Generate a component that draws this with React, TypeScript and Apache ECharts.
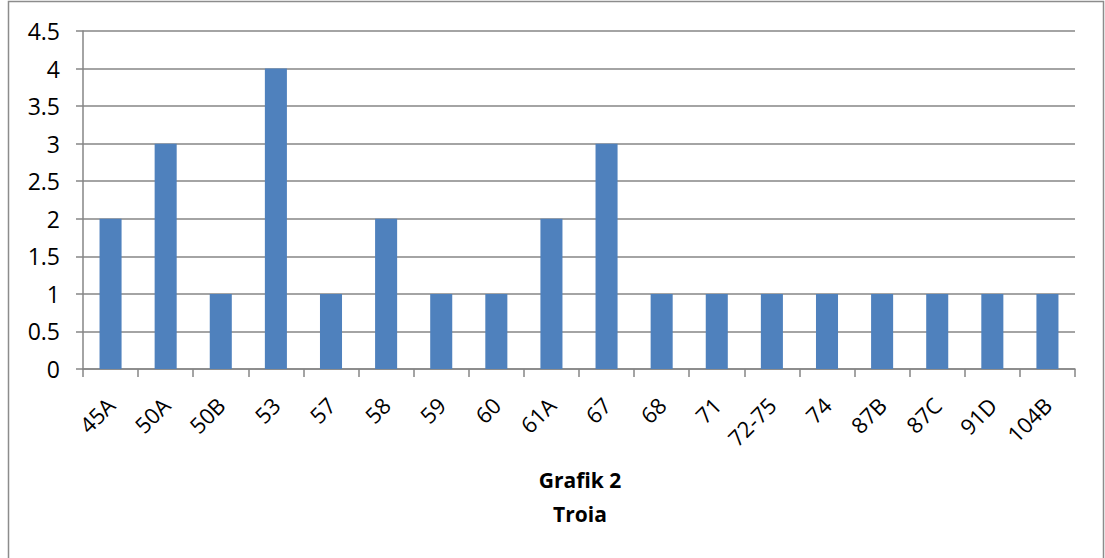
import React, { useEffect, useRef } from "react";
import * as echarts from "echarts";

const categories = ["45A", "50A", "50B", "53", "57", "58", "59", "60", "61A", "67", "68", "71", "72-75", "74", "87B", "87C", "91D", "104B"];
const values = [2, 3, 1, 4, 1, 2, 1, 1, 2, 3, 1, 1, 1, 1, 1, 1, 1, 1];
const titleLines = ["Grafik 2", "Troia"];

export default function App() {
  const ref = useRef<HTMLDivElement>(null);
  useEffect(() => {
    if (!ref.current) return;
    const chart = echarts.init(ref.current, undefined, { renderer: "svg" });
    const font = "'Open Sans', 'Liberation Sans', sans-serif";
    chart.setOption({
      animation: false,
      backgroundColor: "#ffffff",
      grid: { left: 83, right: 30, top: 31, bottom: 189, containLabel: false },
      xAxis: {
        type: "category",
        data: categories,
        boundaryGap: true,
        axisLine: { lineStyle: { color: "#868686", width: 1.5 } },
        axisTick: { show: true, length: 8, alignWithLabel: false, lineStyle: { color: "#868686", width: 1.5 } },
        axisLabel: { rotate: 45, margin: 32, fontSize: 22, color: "#000", fontFamily: font, interval: 0 },
      },
      yAxis: {
        type: "value",
        min: 0,
        max: 4.5,
        interval: 0.5,
        axisLine: { show: true, lineStyle: { color: "#868686", width: 1.5 } },
        axisTick: { show: true, length: 7, lineStyle: { color: "#868686", width: 1.5 } },
        axisLabel: { margin: 23, fontSize: 23, color: "#000", fontFamily: font },
        splitLine: { show: true, lineStyle: { color: "#868686", width: 1.5 } },
      },
      series: [
        {
          type: "bar",
          data: values,
          barWidth: "40%",
          itemStyle: { color: "#4F81BD" },
        },
      ],
      graphic: [
        {
          type: "polyline",
          shape: { points: [[8.5, 600], [8.5, 1.5], [1103.5, 1.5], [1103.5, 600]] },
          style: { stroke: "#8c8c8c", lineWidth: 1.5, fill: "none" },
          silent: true,
        },
        {
          type: "text",
          x: 580,
          y: 480,
          style: { text: titleLines[0], fontSize: 21, fontWeight: "bold", fill: "#000", fontFamily: font, align: "center", verticalAlign: "middle" },
        },
        {
          type: "text",
          x: 580,
          y: 514,
          style: { text: titleLines[1], fontSize: 21, fontWeight: "bold", fill: "#000", fontFamily: font, align: "center", verticalAlign: "middle" },
        },
      ],
    });
    return () => chart.dispose();
  }, []);
  return (
    <div
      ref={ref}
      style={{ position: "absolute", left: 0, top: 0, width: 1105, height: 558, background: "#fff" }}
    />
  );
}
